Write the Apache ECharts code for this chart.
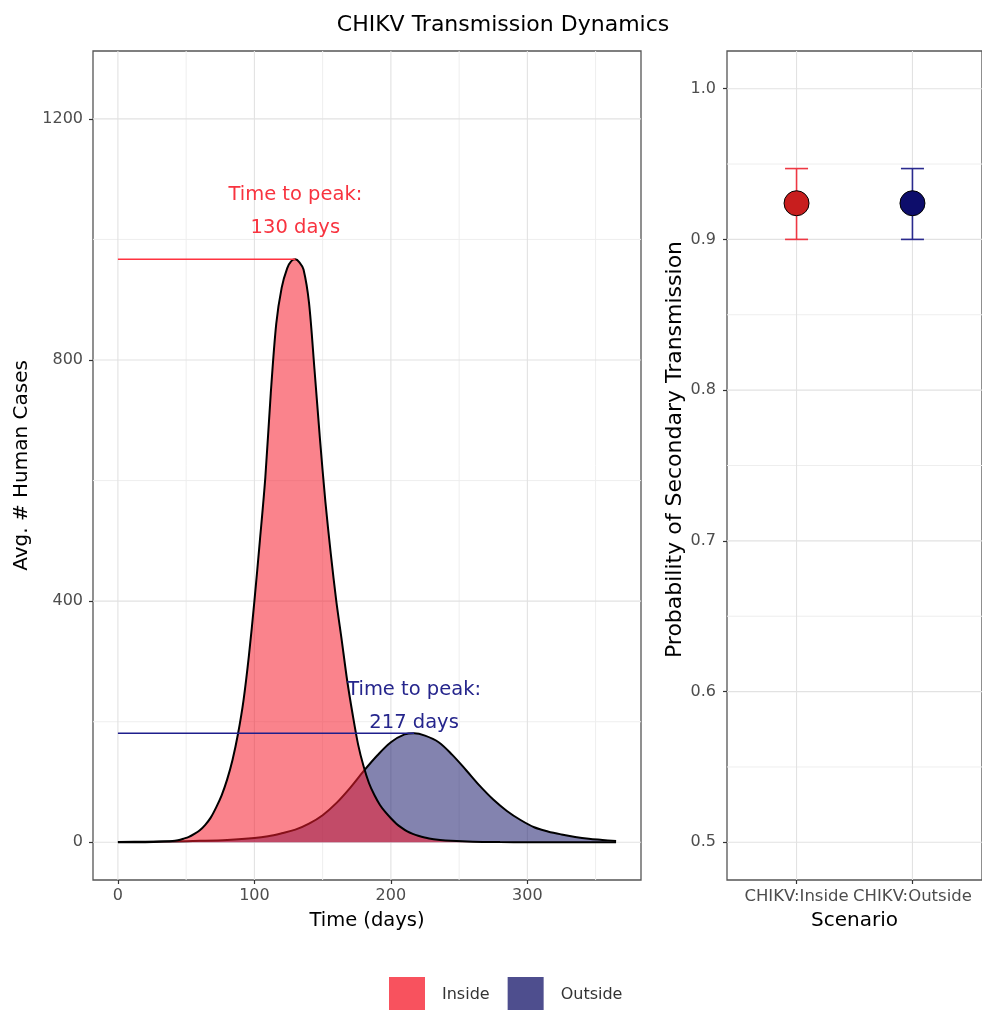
<!DOCTYPE html>
<html>
<head>
<meta charset="utf-8">
<script src="https://cdn.jsdelivr.net/npm/echarts@6/dist/echarts.min.js"></script>
<style>
html,body{margin:0;padding:0;background:#fff;}
#main{width:982px;height:1010px;}
</style>
</head>
<body>
<div id="main"></div>
<script>
// ---------- data ----------
const insideDays  = [0,10,20,30,40,44,48,52,56,60,64,68,72,76,80,84,88,92,96,100,104,108,112,116,120,124,127,130,133,136,140,144,148,152,156,160,164,168,172,176,180,184,188,192,196,200,204,208,212,216,220,228,236,244,260,280,300,330,365];
const insideCases = [0,0.1,0.3,0.8,2,3.5,6,9,14,20,29,41,58,78,104,137,180,235,310,400,500,605,745,860,920,952,964,967,962,950,895,785,670,565,478,400,335,268,212,162,126,98,78,62,50,40,31,24,18,14,11,6.5,4,2.5,1,0.4,0.2,0.1,0];
const outsideDays  = [0,20,40,60,80,100,110,120,130,140,150,160,170,180,190,200,210,217,225,235,245,255,265,275,285,295,305,315,325,335,345,355,365];
const outsideCases = [0.5,1,1.5,2.5,4,7,10,15,21,31,45,65,90,118,144,166,179,181,177,166,145,120,94,71,52,37,25,18,13,9,6,4,2];
const seriesNames = ['Inside','Outside'];
const peakDay   = [130, 217];
const peakCases = [967, 181];
const peakText  = ['Time to peak:\n130 days', 'Time to peak:\n217 days'];
const peakTextAt = [[130, 1046], [217, 226]];

const scenarios = ['CHIKV:Inside','CHIKV:Outside'];
const probMean = [0.924, 0.924];
const probLow  = [0.900, 0.900];
const probHigh = [0.947, 0.947];

const xTicks = [0,100,200,300];
const xMinor = [50,150,250,350];
const yTicks = [0,400,800,1200];
const yMinor = [200,600,1000];
const pTicks = [0.5,0.6,0.7,0.8,0.9,1.0];
const pMinor = [0.55,0.65,0.75,0.85,0.95];
const scenarioPos = [1,2];

// ---------- styles ----------
const FONT = 'DejaVu Sans';
const tickColor = '#4D4D4D';
const majorGrid = '#E2E2E2';
const minorGrid = '#EEEEEE';
const areaColors = ['rgba(245,30,45,0.55)', 'rgba(30,30,110,0.55)'];
const legendColors = ['#F8525E', '#4E4E8E'];
const refColors = ['#FF3340', '#1E1E8C'];
const textColors = ['#F8333F', '#25258C'];
const pointColors = ['#C81E1E', '#0D0D6B'];
const errColors = ['#EE3844', '#2A2A8E'];

const zip = (a, b) => a.map((v, i) => [v, b[i]]);

// grid line records: [value, horizontal(1)/vertical(0), major(1)/minor(0)]
function gridData(vx, vy, major) {
  return vx.map(v => [v, 0, major]).concat(vy.map(v => [v, 1, major]));
}
function gridRender(refX, refY) {
  return function (params, api) {
    const cs = params.coordSys;
    const v = api.value(0), horiz = api.value(1), major = api.value(2);
    let shape;
    if (horiz) {
      const y = api.coord([refX, v])[1];
      shape = {x1: cs.x, y1: y, x2: cs.x + cs.width, y2: y};
    } else {
      const x = api.coord([v, refY])[0];
      shape = {x1: x, y1: cs.y, x2: x, y2: cs.y + cs.height};
    }
    return {type: 'line', shape: shape, silent: true,
      style: {stroke: major ? majorGrid : minorGrid, lineWidth: major ? 1.1 : 1}};
  };
}

const axisLabelBase = {color: tickColor, fontSize: 16, fontFamily: FONT};
const nameStyle = {color: '#000', fontSize: 19.5, fontFamily: FONT};
const hiddenLine = {show: false, onZero: false};
const tickStyle = {show: true, inside: false, length: 4, lineStyle: {color: '#333', width: 1.2}};

const option = {
  animation: false,
  title: {
    text: 'CHIKV Transmission Dynamics',
    left: 503, top: 14, padding: 0, textAlign: 'center',
    textStyle: {fontSize: 22, fontWeight: 'normal', color: '#000', fontFamily: FONT}
  },
  legend: {
    left: 389, top: 977, padding: 0, itemWidth: 36, itemHeight: 36, itemGap: 18,
    icon: 'rect', selectedMode: false,
    textStyle: {fontSize: 16, color: '#333', fontFamily: FONT, padding: [0,0,0,12]},
    data: seriesNames.map((n, i) => ({name: n, itemStyle: {color: legendColors[i], borderWidth: 0, opacity: 1}}))
  },
  grid: [
    {left: 93, top: 51, width: 548, height: 829, show: true, borderColor: '#555', borderWidth: 1.3, backgroundColor: 'transparent'},
    {left: 727, top: 51, width: 264, height: 829, show: true, borderColor: '#555', borderWidth: 1.3, backgroundColor: 'transparent'}
  ],
  xAxis: [
    {gridIndex: 0, type: 'value', min: -18.25, max: 383.25, position: 'bottom',
     axisLine: hiddenLine,
     axisTick: Object.assign({customValues: xTicks}, tickStyle),
     axisLabel: Object.assign({customValues: xTicks, margin: 8}, axisLabelBase),
     splitLine: {show: false},
     name: 'Time (days)', nameLocation: 'middle', nameGap: 31, nameTextStyle: nameStyle},
    {gridIndex: 1, type: 'value', min: 0.4, max: 2.6, position: 'bottom',
     axisLine: hiddenLine,
     axisTick: Object.assign({customValues: scenarioPos}, tickStyle),
     axisLabel: Object.assign({}, axisLabelBase, {customValues: scenarioPos, margin: 8, fontSize: 16.5,
        formatter: v => scenarios[Math.round(v) - 1]}),
     splitLine: {show: false},
     name: 'Scenario', nameLocation: 'middle', nameGap: 31,
     nameTextStyle: Object.assign({}, nameStyle, {fontSize: 20})}
  ],
  yAxis: [
    {gridIndex: 0, type: 'value', min: -62.5, max: 1312.5, position: 'left',
     axisLine: hiddenLine,
     axisTick: Object.assign({customValues: yTicks}, tickStyle),
     axisLabel: Object.assign({customValues: yTicks, margin: 10, formatter: v => String(v)}, axisLabelBase),
     splitLine: {show: false},
     name: 'Avg. # Human Cases', nameLocation: 'middle', nameGap: 44,
     nameTextStyle: Object.assign({}, nameStyle, {fontSize: 20})},
    {gridIndex: 1, type: 'value', min: 0.475, max: 1.025, position: 'left',
     axisLine: hiddenLine,
     axisTick: Object.assign({customValues: pTicks}, tickStyle),
     axisLabel: Object.assign({customValues: pTicks, margin: 11, formatter: v => v.toFixed(1)}, axisLabelBase),
     splitLine: {show: false},
     name: 'Probability of Secondary Transmission', nameLocation: 'middle', nameGap: 40,
     nameTextStyle: Object.assign({}, nameStyle, {fontSize: 22, padding: [0, 0, 0, 32]})}
  ],
  series: [
    // grid lines, left panel
    {type: 'custom', xAxisIndex: 0, yAxisIndex: 0, z: 1, silent: true,
     data: gridData(xMinor, yMinor, 0).concat(gridData(xTicks, yTicks, 1)),
     renderItem: gridRender(0, 0)},
    // grid lines, right panel
    {type: 'custom', xAxisIndex: 1, yAxisIndex: 1, z: 1, silent: true,
     data: gridData([], pMinor, 0).concat(gridData(scenarioPos, pTicks, 1)),
     renderItem: gridRender(1, 0.5)},
    // Outside area
    {name: 'Outside', type: 'line', xAxisIndex: 0, yAxisIndex: 0, z: 2,
     data: zip(outsideDays, outsideCases), showSymbol: false, symbol: 'none',
     smooth: 0.35,
     itemStyle: {color: legendColors[1]},
     lineStyle: {color: '#000', width: 2},
     areaStyle: {color: areaColors[1], opacity: 1}},
    // Inside area
    {name: 'Inside', type: 'line', xAxisIndex: 0, yAxisIndex: 0, z: 3,
     data: zip(insideDays, insideCases), showSymbol: false, symbol: 'none',
     smooth: 0.3,
     itemStyle: {color: legendColors[0]},
     lineStyle: {color: '#000', width: 2},
     areaStyle: {color: areaColors[0], opacity: 1}},
    // peak reference lines
    ...peakDay.map((d, i) => ({
      type: 'line', xAxisIndex: 0, yAxisIndex: 0, z: 4, silent: true,
      data: [[0, peakCases[i]], [d, peakCases[i]]], symbol: 'none',
      lineStyle: {color: refColors[i], width: 1.6}
    })),
    // peak annotations
    ...peakText.map((t, i) => ({
      type: 'scatter', xAxisIndex: 0, yAxisIndex: 0, z: 5, silent: true,
      data: [peakTextAt[i]], symbolSize: 0, itemStyle: {opacity: 1},
      label: {show: true, position: 'inside', formatter: t, color: textColors[i], opacity: 1,
              fontSize: 19.5, lineHeight: 33, align: 'center', fontFamily: FONT}
    })),
    // error bars
    {type: 'custom', xAxisIndex: 1, yAxisIndex: 1, z: 3, silent: true,
     data: scenarioPos.map((p, i) => [p, probLow[i], probHigh[i]]),
     renderItem: function (params, api) {
       const x = api.value(0);
       const lo = api.coord([x, api.value(1)]);
       const hi = api.coord([x, api.value(2)]);
       const half = 11.5;
       const st = {stroke: errColors[params.dataIndex], lineWidth: 1.6};
       return {type: 'group', children: [
         {type: 'line', shape: {x1: lo[0], y1: lo[1], x2: hi[0], y2: hi[1]}, style: st},
         {type: 'line', shape: {x1: lo[0] - half, y1: lo[1], x2: lo[0] + half, y2: lo[1]}, style: st},
         {type: 'line', shape: {x1: hi[0] - half, y1: hi[1], x2: hi[0] + half, y2: hi[1]}, style: st}
       ]};
     }},
    // points
    {type: 'scatter', xAxisIndex: 1, yAxisIndex: 1, z: 4, silent: true,
     data: scenarioPos.map((p, i) => ({value: [p, probMean[i]],
        itemStyle: {color: pointColors[i], borderColor: '#000', borderWidth: 1, opacity: 1}})),
     symbolSize: 25}
  ]
};

const chart = echarts.init(document.getElementById('main'), null, {renderer: 'canvas'});
chart.setOption(option);
</script>
</body>
</html>
